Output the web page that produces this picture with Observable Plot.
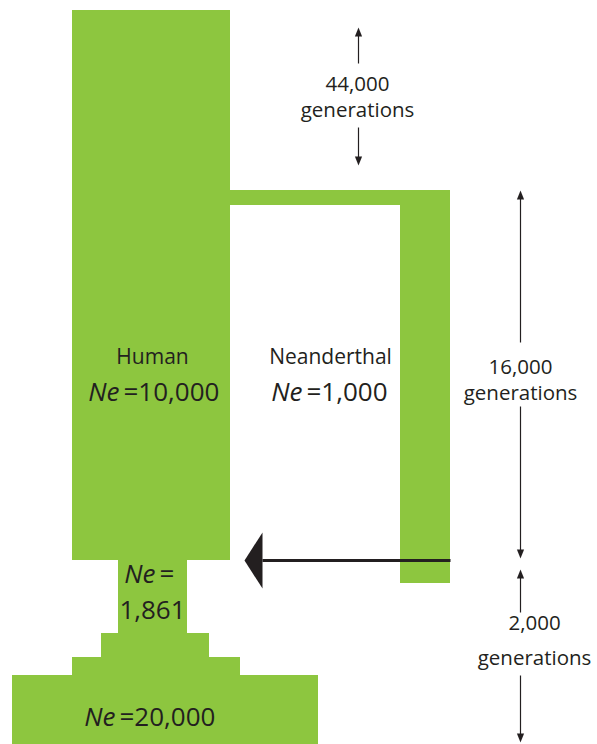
<!DOCTYPE html>
<html>
<head>
<meta charset="utf-8">
<script src="https://cdn.jsdelivr.net/npm/d3@7"></script>
<script src="https://cdn.jsdelivr.net/npm/@observablehq/plot@0.6"></script>
<style>
  html, body { margin: 0; padding: 0; background: #fff; }
  #chart svg { display: block; }
</style>
</head>
<body>
<div id="chart"></div>
<script>
// Schematic model layout (diagram units: horizontal = population width, vertical = time)
const blocks = [
  { name: "Human",        x1: 72,  x2: 230, y1: 10,  y2: 560 },
  { name: "Split",        x1: 230, x2: 450, y1: 190, y2: 205 },
  { name: "Neanderthal",  x1: 400, x2: 450, y1: 190, y2: 583 },
  { name: "Bottleneck",   x1: 118, x2: 187, y1: 560, y2: 633 },
  { name: "Growth1",      x1: 101, x2: 209, y1: 633, y2: 657 },
  { name: "Growth2",      x1: 72,  x2: 240, y1: 657, y2: 675 },
  { name: "Ancestral",    x1: 12,  x2: 318, y1: 675, y2: 744 }
];
const neValues = ["=10,000", "=1,000", "=", "=20,000"];
const neAnchors = [
  { x: 119, y: 400 }, { x: 302, y: 400 }, { x: 155, y: 582 }, { x: 115, y: 725 }
];
const popLabels = [
  { text: "Human", x: 152, y: 363 },
  { text: "Neanderthal", x: 330, y: 363 }
];
const bottleneckNe = [{ text: "1,861", x: 152, y: 618 }];
const durations = ["44,000", "16,000", "2,000"];
const durationLabelPos = [
  { x: 357, y: 90, gy: 116 },
  { x: 520, y: 373, gy: 399 },
  { x: 534, y: 629, gy: 664 }
];
// vertical duration arrows: tip and tail
const spanArrows = [
  { x: 358, tip: 27,  end: 63 },
  { x: 358, tip: 165, end: 127 },
  { x: 520, tip: 190, end: 342 },
  { x: 520, tip: 558, end: 406 },
  { x: 520, tip: 569, end: 612 },
  { x: 520, tip: 742, end: 675 }
];
// migration (admixture) from Neanderthal into Human
const migration = { from: 450, to: 262, y: 560, tip: 244, half: 28 };

const green = "#8dc63f";
const ink = "#231f20";
const font = "Open Sans";

const neData = neValues.map((v, i) => ({ v, ...neAnchors[i] }));
const durText = durations.map((d, i) => ({ d, ...durationLabelPos[i] }));

const heads = [];
spanArrows.forEach((a, i) => {
  const dir = a.end > a.tip ? 1 : -1;
  heads.push({ id: i, x: a.x, y: a.tip });
  heads.push({ id: i, x: a.x - 3.6, y: a.tip + 9 * dir });
  heads.push({ id: i, x: a.x + 3.6, y: a.tip + 9 * dir });
});
const bigHead = [
  { x: migration.tip, y: migration.y },
  { x: migration.to, y: migration.y - migration.half },
  { x: migration.to, y: migration.y + migration.half }
];

const plot = Plot.plot({
  width: 597,
  height: 744,
  margin: 0,
  x: { domain: [0, 597], range: [0, 597], axis: null },
  y: { domain: [0, 744], range: [0, 744], axis: null },
  style: { fontFamily: font, background: "#fff", color: ink },
  marks: [
    Plot.rect(blocks, { x1: "x1", x2: "x2", y1: "y1", y2: "y2", fill: green }),
    Plot.link([migration], { x1: "from", x2: "to", y1: "y", y2: "y", stroke: ink, strokeWidth: 3 }),
    Plot.line(bigHead, { x: "x", y: "y", fill: ink, stroke: "none" }),
    Plot.link(spanArrows, { x1: "x", x2: "x", y1: (d) => d.tip + (d.end > d.tip ? 4 : -4), y2: "end", stroke: ink, strokeWidth: 1.2 }),
    Plot.line(heads, { x: "x", y: "y", z: "id", fill: ink, stroke: "none" }),
    Plot.text(popLabels, { x: "x", y: "y", text: "text", fontSize: 21, fill: ink, lineAnchor: "bottom", textAnchor: "middle" }),
    Plot.text(bottleneckNe, { x: "x", y: "y", text: "text", fontSize: 26, fill: ink, lineAnchor: "bottom", textAnchor: "middle" }),
    Plot.text(neData, { x: "x", y: "y", text: () => "Ne", fontSize: 26, fontStyle: "italic", fill: ink, lineAnchor: "bottom", textAnchor: "end" }),
    Plot.text(neData, { x: (d) => d.x + 4, y: "y", text: "v", fontSize: 26, fill: ink, lineAnchor: "bottom", textAnchor: "start" }),
    Plot.text(durText, { x: "x", y: "y", text: "d", fontSize: 20.5, fill: ink, lineAnchor: "bottom", textAnchor: "middle" }),
    Plot.text(durText, { x: "x", y: "gy", text: () => "generations", fontSize: 20.5, fill: ink, lineAnchor: "bottom", textAnchor: "middle" })
  ]
});
document.getElementById("chart").appendChild(plot);
</script>
</body>
</html>
